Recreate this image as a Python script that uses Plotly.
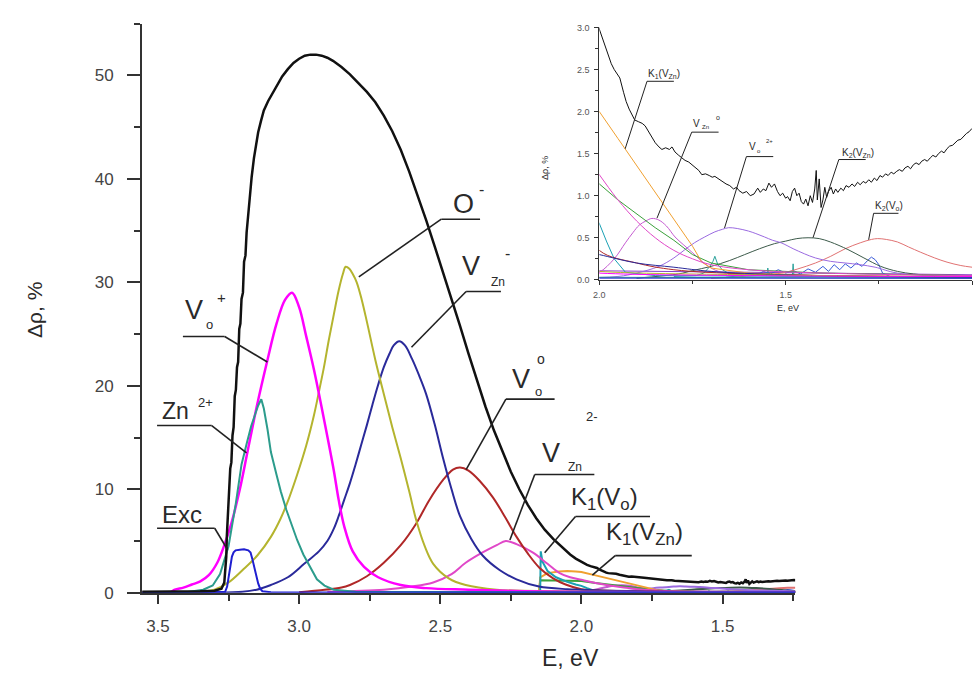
import plotly.graph_objects as go

# ---------------- data (energy E in eV, signal in %) ----------------
total_E = [3.556, 3.45, 3.35, 3.30, 3.275, 3.265, 3.258, 3.256, 3.252, 3.249, 3.244, 3.240, 3.236, 3.232,
           3.228, 3.224, 3.220, 3.216, 3.212, 3.208, 3.204, 3.199, 3.195, 3.190, 3.186, 3.180, 3.175, 3.168,
           3.160, 3.152, 3.145, 3.135, 3.125, 3.11, 3.10, 3.08, 3.06, 3.04, 3.02, 3.00, 2.98, 2.96, 2.94,
           2.92, 2.90, 2.88, 2.85, 2.82, 2.79, 2.76, 2.73, 2.70, 2.67, 2.64, 2.61, 2.58, 2.55, 2.52, 2.49,
           2.46, 2.43, 2.40, 2.37, 2.34, 2.31, 2.28, 2.25, 2.22, 2.19, 2.16, 2.13, 2.10, 2.07, 2.04, 2.02,
           2.00, 1.99, 1.98, 1.968, 1.96, 1.95, 1.945, 1.935, 1.928, 1.92, 1.912, 1.905, 1.895, 1.885, 1.877,
           1.865, 1.85, 1.84, 1.832, 1.822, 1.812, 1.805, 1.797, 1.787, 1.778, 1.77, 1.76, 1.752, 1.742,
           1.733, 1.725, 1.715, 1.705, 1.697, 1.69, 1.68, 1.67, 1.66, 1.65, 1.64, 1.632, 1.625, 1.615, 1.605,
           1.595, 1.585, 1.575, 1.568, 1.56, 1.553, 1.545, 1.538, 1.53, 1.522, 1.515, 1.508, 1.50, 1.495,
           1.488, 1.482, 1.476, 1.47, 1.464, 1.458, 1.452, 1.446, 1.44, 1.434, 1.428, 1.422, 1.418, 1.415,
           1.41, 1.405, 1.40, 1.395, 1.39, 1.385, 1.378, 1.372, 1.366, 1.36, 1.352, 1.345, 1.338, 1.33,
           1.322, 1.315, 1.307, 1.30, 1.292, 1.285, 1.277, 1.27, 1.262, 1.255, 1.247, 1.24, 1.232, 1.225,
           1.217, 1.21, 1.202, 1.195, 1.187, 1.18, 1.172, 1.165, 1.157, 1.15, 1.142, 1.135, 1.127, 1.12,
           1.112, 1.105, 1.097, 1.09, 1.082, 1.075, 1.067, 1.06, 1.052, 1.045, 1.038, 1.03, 1.022, 1.015,
           1.008, 1.0]
total_V = [0.1, 0.1, 0.15, 0.2, 0.4, 1.0, 3.5, 5.5, 7.8, 8.2, 12.0, 12.6, 15.2, 16.0,
           19.0, 19.6, 21.8, 22.3, 25.5, 26.0, 28.4, 29.0, 32.0, 32.6, 34.8, 36.6, 38.5, 40.2,
           42.0, 43.6, 44.5, 45.6, 46.6, 47.5, 48.0, 49.0, 49.9, 50.6, 51.2, 51.6, 51.9, 52.0, 52.0,
           51.9, 51.7, 51.4, 50.8, 50.1, 49.3, 48.4, 47.4, 46.1, 44.6, 42.8, 40.7, 38.4, 36.0, 33.5, 31.0,
           28.4, 25.8, 23.1, 20.5, 18.0, 15.7, 13.6, 11.7, 10.0, 8.5, 7.2, 6.1, 5.2, 4.4, 3.7, 3.3,
           2.98, 2.85, 2.70, 2.57, 2.50, 2.44, 2.40, 2.23, 2.12, 2.03, 1.95, 1.90, 1.88, 1.86, 1.83,
           1.74, 1.63, 1.58, 1.55, 1.57, 1.55, 1.58, 1.52, 1.48, 1.45, 1.42, 1.40, 1.37, 1.33,
           1.30, 1.25, 1.26, 1.24, 1.22, 1.23, 1.20, 1.16, 1.14, 1.12, 1.08, 1.10, 1.06, 1.03, 1.05,
           1.00, 1.02, 1.09, 1.04, 1.08, 1.06, 1.15, 1.10, 1.14, 1.05, 1.00, 1.03, 0.97, 0.99,
           0.94, 1.05, 1.09, 1.00, 1.03, 0.93, 0.90, 0.96, 0.88, 1.00, 0.92, 1.08, 1.30, 0.95,
           1.20, 0.86, 0.95, 1.10, 0.98, 1.05, 1.10, 1.02, 1.08, 1.04, 1.09, 1.06, 1.12, 1.10,
           1.14, 1.11, 1.16, 1.13, 1.17, 1.15, 1.19, 1.16, 1.21, 1.18, 1.24, 1.22, 1.26, 1.24,
           1.28, 1.26, 1.29, 1.31, 1.29, 1.33, 1.35, 1.32, 1.37, 1.39, 1.37, 1.41, 1.43, 1.41,
           1.45, 1.48, 1.46, 1.50, 1.53, 1.51, 1.56, 1.59, 1.60, 1.63, 1.66, 1.67, 1.71, 1.74,
           1.76, 1.80]

exc_E = [3.556, 3.30, 3.262, 3.255, 3.25, 3.245, 3.238, 3.232, 3.225, 3.21, 3.195, 3.18, 3.172, 3.166,
         3.16, 3.152, 3.145, 3.138, 3.13, 3.10, 2.8, 2.0, 1.0]
exc_V = [0.0, 0.05, 0.1, 0.6, 1.6, 2.6, 3.5, 3.9, 4.1, 4.15, 4.2, 4.1, 3.9, 3.3,
         2.6, 1.6, 0.9, 0.4, 0.15, 0.05, 0.02, 0.02, 0.02]

zn_E = [3.556, 3.40, 3.34, 3.306, 3.28, 3.25, 3.225, 3.204, 3.185, 3.17, 3.155, 3.145, 3.134, 3.125,
        3.112, 3.10, 3.08, 3.065, 3.045, 3.025, 3.007, 2.985, 2.96, 2.937, 2.91, 2.877, 2.80, 2.5, 2.0, 1.0]
zn_V = [0.0, 0.05, 0.3, 0.7, 1.8, 4.5, 8.5, 12.4, 14.5, 16.1, 17.3, 18.1, 18.7, 17.8,
        15.8, 13.6, 11.4, 9.8, 8.0, 6.4, 5.1, 3.7, 2.4, 1.3, 0.7, 0.3, 0.1, 0.05, 0.03, 0.02]

vop_E = [3.556, 3.46, 3.44, 3.41, 3.38, 3.35, 3.32, 3.29, 3.265, 3.24, 3.21, 3.183, 3.15, 3.113, 3.08,
         3.05, 3.025, 3.00, 2.975, 2.947, 2.91, 2.877, 2.86, 2.84, 2.81, 2.77, 2.72, 2.64, 2.55, 2.40,
         2.2, 2.0, 1.6, 1.0]
vop_V = [0.0, 0.0, 0.3, 0.5, 0.8, 1.1, 1.7, 2.9, 4.6, 6.7, 10.0, 13.6, 18.0, 22.4, 26.0,
         28.3, 29.0, 27.6, 24.8, 21.5, 16.5, 11.8, 9.0, 6.4, 4.0, 2.5, 1.5, 0.75, 0.45, 0.3,
         0.15, 0.08, 0.05, 0.04]

om_E = [3.556, 3.35, 3.30, 3.25, 3.20, 3.148, 3.10, 3.065, 3.035, 3.007, 2.975, 2.947, 2.93, 2.912,
        2.895, 2.877, 2.86, 2.845, 2.835, 2.822, 2.81, 2.796, 2.778, 2.76, 2.73, 2.70, 2.67, 2.64,
        2.61, 2.585, 2.555, 2.525, 2.47, 2.41, 2.3, 2.1, 2.0, 1.6, 1.0]
om_V = [0.0, 0.1, 0.3, 1.0, 2.2, 3.6, 5.4, 7.2, 9.2, 11.4, 14.2, 17.2, 19.4, 21.8,
        24.4, 26.9, 29.2, 30.8, 31.5, 31.3, 30.8, 30.0, 28.3, 26.2, 22.5, 19.2, 16.0, 13.0,
        9.8, 7.0, 4.5, 2.8, 1.4, 0.75, 0.3, 0.15, 0.1, 0.06, 0.04]

vznm_E = [3.556, 3.20, 3.15, 3.10, 3.04, 2.982, 2.93, 2.90, 2.877, 2.86, 2.84, 2.82, 2.80, 2.78, 2.76,
          2.74, 2.72, 2.70, 2.68, 2.665, 2.645, 2.625, 2.60, 2.575, 2.55, 2.52, 2.49, 2.46, 2.43, 2.39,
          2.35, 2.29, 2.23, 2.15, 2.05, 2.0, 1.9, 1.8, 1.7, 1.5, 1.0]
vznm_V = [0.0, 0.1, 0.3, 0.75, 1.5, 2.8, 4.0, 5.0, 6.2, 7.4, 9.0, 10.6, 12.4, 14.3, 16.2,
          18.2, 20.1, 21.8, 23.1, 23.9, 24.3, 23.9, 22.6, 21.0, 19.2, 16.3, 13.0, 10.0, 7.4, 5.2,
          3.6, 2.2, 1.3, 0.6, 0.35, 0.3, 0.2, 0.15, 0.1, 0.06, 0.03]

vo0_E = [3.0, 2.85, 2.82, 2.76, 2.70, 2.64, 2.585, 2.54, 2.49, 2.455, 2.43, 2.40, 2.36, 2.313, 2.27,
         2.232, 2.19, 2.148, 2.10, 2.056, 2.0, 1.9, 1.8, 1.6, 1.0]
vo0_V = [0.05, 0.5, 0.75, 1.6, 2.9, 4.6, 6.7, 8.9, 10.9, 11.9, 12.1, 11.8, 10.8, 9.2, 7.3,
         5.5, 3.8, 2.4, 1.4, 0.8, 0.35, 0.2, 0.12, 0.07, 0.03]

vzn2_E = [2.9, 2.70, 2.60, 2.525, 2.46, 2.41, 2.35, 2.30, 2.268, 2.23, 2.173, 2.12, 2.077, 2.04, 2.0,
          1.95, 1.90, 1.85, 1.80, 1.75, 1.70, 1.6, 1.4, 1.0]
vzn2_V = [0.1, 0.3, 0.6, 1.0, 1.8, 2.9, 3.9, 4.6, 5.0, 4.7, 3.9, 2.8, 1.9, 1.5, 1.25,
          0.95, 0.7, 0.5, 0.35, 0.25, 0.18, 0.12, 0.08, 0.05]

k1vo_E = [2.5, 2.150, 2.146, 2.144, 2.138, 2.12, 2.09, 2.05, 2.02, 2.0, 1.98, 1.96, 1.93, 1.85, 1.0]
k1vo_V = [0.02, 0.02, 0.1, 4.0, 3.0, 2.1, 1.5, 1.05, 0.8, 0.67, 0.45, 0.25, 0.09, 0.05, 0.03]

green_E = [2.5, 2.150, 2.146, 2.12, 2.08, 2.04, 2.0, 1.95, 1.90, 1.85, 1.80, 1.75, 1.70, 1.6, 1.4, 1.0]
green_V = [0.02, 0.02, 1.2, 1.2, 1.19, 1.17, 1.14, 0.95, 0.78, 0.62, 0.47, 0.3, 0.2, 0.12, 0.08, 0.05]

k1vzn_E = [2.5, 2.150, 2.146, 2.12, 2.08, 2.05, 2.02, 2.0, 1.95, 1.90, 1.85, 1.80, 1.75, 1.725, 1.70,
           1.6, 1.4, 1.0]
k1vzn_V = [0.02, 0.02, 1.5, 1.9, 2.05, 2.1, 2.05, 2.0, 1.68, 1.36, 1.04, 0.72, 0.4, 0.21, 0.14,
           0.08, 0.05, 0.03]

vzn0_E = [2.2, 2.1, 2.03, 2.0, 1.96, 1.93, 1.91, 1.893, 1.875, 1.859, 1.84, 1.82, 1.797, 1.775, 1.752,
          1.73, 1.707, 1.68, 1.6, 1.4, 1.0]
vzn0_V = [0.02, 0.03, 0.06, 0.09, 0.25, 0.44, 0.56, 0.65, 0.70, 0.73, 0.71, 0.64, 0.51, 0.42, 0.33,
          0.24, 0.16, 0.10, 0.06, 0.04, 0.02]

vo2_E = [2.1, 1.95, 1.90, 1.84, 1.80, 1.77, 1.745, 1.717, 1.69, 1.67, 1.653, 1.63, 1.60, 1.58, 1.557,
         1.535, 1.512, 1.48, 1.45, 1.42, 1.38, 1.34, 1.30, 1.26, 1.2, 1.0]
vo2_V = [0.02, 0.04, 0.08, 0.16, 0.26, 0.36, 0.44, 0.51, 0.57, 0.60, 0.62, 0.61, 0.58, 0.55, 0.51,
         0.47, 0.44, 0.37, 0.31, 0.26, 0.22, 0.20, 0.18, 0.15, 0.08, 0.03]

k2vzn_E = [1.9, 1.787, 1.75, 1.70, 1.65, 1.61, 1.57, 1.53, 1.50, 1.47, 1.44, 1.41, 1.38, 1.333, 1.29,
           1.245, 1.20, 1.157, 1.1, 1.0]
k2vzn_V = [0.02, 0.07, 0.11, 0.16, 0.23, 0.30, 0.37, 0.43, 0.46, 0.49, 0.50, 0.49, 0.45, 0.36, 0.26,
           0.16, 0.10, 0.07, 0.05, 0.03]

k2vo_E = [1.7, 1.55, 1.50, 1.467, 1.42, 1.379, 1.34, 1.30, 1.27, 1.253, 1.23, 1.20, 1.17, 1.139, 1.10,
          1.067, 1.03, 1.0]
k2vo_V = [0.02, 0.06, 0.09, 0.13, 0.20, 0.28, 0.37, 0.44, 0.48, 0.49, 0.48, 0.45, 0.39, 0.33, 0.26,
          0.21, 0.17, 0.15]

blue_E = [1.66, 1.62, 1.60, 1.58, 1.56, 1.54, 1.52, 1.50, 1.48, 1.46, 1.44, 1.42, 1.40, 1.385, 1.37,
          1.355, 1.34, 1.325, 1.31, 1.295, 1.28, 1.27, 1.26, 1.25, 1.24, 1.22, 1.0]
blue_V = [0.03, 0.05, 0.08, 0.05, 0.10, 0.07, 0.12, 0.08, 0.11, 0.07, 0.13, 0.09, 0.16, 0.10, 0.18,
          0.12, 0.19, 0.14, 0.20, 0.16, 0.23, 0.27, 0.24, 0.18, 0.08, 0.04, 0.03]

teal_E = [1.80, 1.74, 1.72, 1.705, 1.695, 1.69, 1.682, 1.67, 1.65, 1.60, 1.55, 1.548, 1.545, 1.50,
          1.482, 1.480, 1.478, 1.45, 1.0]
teal_V = [0.04, 0.05, 0.08, 0.15, 0.22, 0.28, 0.18, 0.12, 0.07, 0.06, 0.05, 0.14, 0.05, 0.05,
          0.05, 0.19, 0.05, 0.04, 0.03]

purple_E = [2.3, 2.0, 1.8, 1.6, 1.4, 1.2, 1.0]
purple_V = [0.12, 0.11, 0.10, 0.09, 0.08, 0.07, 0.06]

# (E, values, colour, main width, shape)
series = [
    (purple_E, purple_V, "#8a3cc8", 2, "linear"),
    (teal_E, teal_V, "#2aa09a", 2, "linear"),
    (blue_E, blue_V, "#3a5ad8", 2, "linear"),
    (k2vo_E, k2vo_V, "#e07272", 2, "spline"),
    (k2vzn_E, k2vzn_V, "#3c5a4a", 2, "spline"),
    (vo2_E, vo2_V, "#9a6ae0", 2, "spline"),
    (vzn0_E, vzn0_V, "#c45ad0", 2, "spline"),
    (green_E, green_V, "#3aa03a", 2, "linear"),
    (k1vzn_E, k1vzn_V, "#f0a030", 2, "linear"),
    (k1vo_E, k1vo_V, "#1aa0b4", 2, "linear"),
    (vzn2_E, vzn2_V, "#e048c8", 2, "spline"),
    (vo0_E, vo0_V, "#b02828", 2, "spline"),
    (vznm_E, vznm_V, "#2a2a9a", 2, "spline"),
    (om_E, om_V, "#b4b42e", 2, "spline"),
    (vop_E, vop_V, "#ff00ff", 2.5, "spline"),
    (zn_E, zn_V, "#2c9c8c", 2, "linear"),
    (exc_E, exc_V, "#1f1fd0", 2, "linear"),
    (total_E, total_V, "#111111", 2.5, "linear"),
]

W, H = 974, 682


def px(x):
    return x / W


def py(y):
    return 1 - y / H


fig = go.Figure()
for E, V, col, wmain, shp in series:
    fig.add_trace(go.Scatter(x=E, y=V, mode="lines", xaxis="x", yaxis="y",
                             line=dict(color=col, width=wmain, shape=shp, smoothing=1.0),
                             hoverinfo="skip", showlegend=False))
for E, V, col, wmain, shp in series:
    fig.add_trace(go.Scatter(x=E, y=V, mode="lines", xaxis="x2", yaxis="y2",
                             line=dict(color=col, width=1, shape=shp, smoothing=1.0),
                             hoverinfo="skip", showlegend=False))

FONT = "Liberation Sans, Arial, sans-serif"
TXT = "#2a2a2a"

# label pieces: text, x px, y px, size, anchor
main_labels = [
    ("O", 460, 203, 27, "center"), ("-", 478, 189, 16, "center"),
    ("V", 468, 267, 27, "center"), ("Zn", 495, 283, 12, "center"), ("-", 505, 254, 16, "center"),
    ("V", 189, 312, 27, "center"), ("o", 205, 327, 13, "center"), ("+", 217, 299, 15, "center"),
    ("Zn", 171, 415, 23, "center"), ("2+", 201, 406, 13, "center"),
    ("Exc", 177, 521, 24, "center"),
    ("V", 518, 382, 27, "center"), ("o", 536, 395, 13, "center"), ("o", 538, 362, 14, "center"),
    ("V", 548, 458, 27, "center"), ("Zn", 573, 472, 12, "center"), ("2-", 590, 421, 13, "center"),
    ("K<sub>1</sub>(V<sub>o</sub>)", 566, 505, 24, "left"),
    ("K<sub>1</sub>(V<sub>Zn</sub>)", 602, 540, 24, "left"),
]
inset_labels = [
    ("K<sub>1</sub>(V<sub>Zn</sub>)", 644, 71, 10, "left"),
    ("V", 695, 121, 10, "center"), ("Zn", 704, 125, 6, "center"), ("o", 716, 115, 7, "center"),
    ("V", 751, 145, 10, "center"), ("o", 758, 149, 6, "center"), ("2+", 768, 139, 6, "center"),
    ("K<sub>2</sub>(V<sub>Zn</sub>)", 839, 151, 10, "left"),
    ("K<sub>2</sub>(V<sub>o</sub>)", 872, 206, 10, "left"),
]
main_lines = [
    ((438, 219), (477, 219)), ((438, 219), (355, 278)),
    ((463, 293), (498, 293)), ((463, 293), (408, 350)),
    ((178, 339), (220, 339)), ((220, 339), (263, 365)),
    ((152, 430), (207, 430)), ((207, 430), (242, 458)),
    ((152, 535), (210, 535)), ((210, 535), (223, 557)),
    ((503, 403), (552, 403)), ((503, 403), (463, 475)),
    ((532, 480), (592, 480)), ((532, 480), (507, 547)),
    ((573, 523), (648, 523)), ((573, 523), (542, 560)),
    ((613, 563), (690, 563)), ((613, 563), (590, 583)),
]
inset_lines = [
    ((645, 78), (672, 78)), ((645, 78), (623, 147)),
    ((690, 130), (717, 130)), ((690, 130), (655, 218)),
    ((745, 155), (772, 155)), ((745, 155), (723, 228)),
    ((838, 158), (865, 158)), ((838, 158), (812, 238)),
    ((873, 213), (898, 213)), ((873, 213), (868, 240)),
]

annotations = []
for t, x, y, s, a in main_labels + inset_labels:
    annotations.append(dict(text=t, x=px(x), y=py(y), xref="paper", yref="paper", showarrow=False,
                            xanchor=a, yanchor="middle", font=dict(family=FONT, size=s, color=TXT)))
# axis titles
annotations += [
    dict(text="Δρ, %", x=px(28), y=py(312), xref="paper", yref="paper", showarrow=False, textangle=-90,
         xanchor="center", yanchor="middle", font=dict(family=FONT, size=21, color=TXT)),
    dict(text="E, eV", x=px(568), y=py(668), xref="paper", yref="paper", showarrow=False,
         xanchor="center", yanchor="middle", font=dict(family=FONT, size=23, color=TXT)),
    dict(text="Δρ, %", x=px(543), y=py(167), xref="paper", yref="paper", showarrow=False, textangle=-90,
         xanchor="center", yanchor="middle", font=dict(family=FONT, size=9, color=TXT)),
    dict(text="E, eV", x=px(787), y=py(310), xref="paper", yref="paper", showarrow=False,
         xanchor="center", yanchor="middle", font=dict(family=FONT, size=9, color=TXT)),
]

shapes = []
for (x0, y0), (x1, y1) in main_lines:
    shapes.append(dict(type="line", xref="paper", yref="paper", x0=px(x0), y0=py(y0), x1=px(x1), y1=py(y1),
                       line=dict(color="#222222", width=1.6)))
for (x0, y0), (x1, y1) in inset_lines:
    shapes.append(dict(type="line", xref="paper", yref="paper", x0=px(x0), y0=py(y0), x1=px(x1), y1=py(y1),
                       line=dict(color="#222222", width=1)))

AX = "#333333"
fig.update_layout(
    width=W, height=H, margin=dict(l=0, r=0, t=0, b=0),
    paper_bgcolor="white", plot_bgcolor="white", showlegend=False,
    annotations=annotations, shapes=shapes,
    xaxis=dict(domain=[px(137), px(794)], range=[3.556, 1.243], anchor="y",
               showline=True, linecolor=AX, linewidth=2, ticks="outside", ticklen=9, tickwidth=2,
               tickcolor=AX, dtick=0.5, tick0=0, tickformat=".1f", showgrid=False, zeroline=False,
               tickfont=dict(family=FONT, size=17, color="#444444"), ticklabelstandoff=8,
               minor=dict(ticks="outside", dtick=0.25, tick0=0, ticklen=6, tickwidth=2, tickcolor=AX)),
    yaxis=dict(domain=[py(601), py(19)], range=[0, 55], anchor="x",
               showline=True, linecolor=AX, linewidth=2, ticks="outside", ticklen=13, tickwidth=2,
               tickcolor=AX, dtick=10, tick0=0, showgrid=False, zeroline=False,
               tickfont=dict(family=FONT, size=17, color="#444444"), ticklabelstandoff=10,
               minor=dict(ticks="outside", dtick=5, tick0=0, ticklen=6, tickwidth=2, tickcolor=AX)),
    xaxis2=dict(domain=[px(597), px(972)], range=[2.0, 1.0], anchor="y2",
                showline=True, linecolor=AX, linewidth=1, ticks="outside", ticklen=4, tickwidth=1,
                tickcolor=AX, dtick=0.5, tick0=0, tickformat=".1f", showgrid=False, zeroline=False,
                tickfont=dict(family=FONT, size=9, color="#555555"), ticklabelstandoff=2,
                minor=dict(ticks="outside", dtick=0.25, tick0=0, ticklen=3, tickwidth=1, tickcolor=AX)),
    yaxis2=dict(domain=[py(281), py(23)], range=[0, 3.0], anchor="x2",
                showline=True, linecolor=AX, linewidth=1, ticks="outside", ticklen=4, tickwidth=1,
                tickcolor=AX, dtick=0.5, tick0=0, tickformat=".1f", showgrid=False, zeroline=False,
                tickfont=dict(family=FONT, size=9, color="#555555"), ticklabelstandoff=3,
                minor=dict(ticks="outside", dtick=0.25, tick0=0, ticklen=3, tickwidth=1, tickcolor=AX)),
)

fig.write_html("out.html")
